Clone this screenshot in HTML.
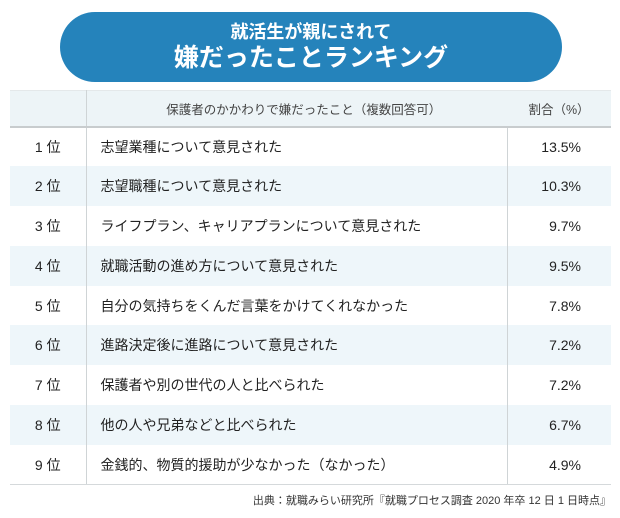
<!DOCTYPE html>
<html><head><meta charset="utf-8"><style>
body{margin:0;width:620px;height:518px;background:#fff;font-family:"Liberation Sans","Noto Sans CJK JP",sans-serif;color:#222;position:relative;overflow:hidden}
.banner{position:absolute;left:60px;top:12px;width:502px;height:70px;border-radius:35px;background:#2583bb;color:#fff;text-align:center;font-weight:bold}
.banner .a{font-size:18px;line-height:22px;margin-top:9px}
.banner .b{font-size:25px;line-height:30px}
table{position:absolute;left:10px;top:90px;width:601px;border-collapse:collapse;table-layout:fixed}
td{padding:0;height:39.8px;font-size:14px;box-sizing:border-box}
tr.h td{height:36px;background:#edf4f7;font-size:12.5px;color:#444;border-bottom:2px solid #c8ccce;border-top:1px solid #e4e8ea}
tr.s td{background:#eef6fa}
td.r{text-align:center;border-right:1px solid #cfd4d6}
td.t{padding-left:14px}
td.p{text-align:right;padding-right:30px;border-left:1px solid #cfd4d6}
tr.h td.p{text-align:center;padding-right:0}
tr.last td{border-bottom:1px solid #d5d9db}
.src{position:absolute;right:9px;top:492px;font-size:11px;color:#333}
</style></head><body>
<div class="banner"><div class="a">就活生が親にされて</div><div class="b">嫌だったことランキング</div></div>
<table>
<colgroup><col style="width:76px"><col style="width:421px"><col style="width:104px"></colgroup>
<tr class="h"><td class="r"></td><td class="t" style="text-align:center">保護者のかかわりで嫌だったこと（複数回答可）</td><td class="p" style="border-left:none">割合（%）</td></tr>
<tr><td class="r">1 位</td><td class="t">志望業種について意見された</td><td class="p">13.5%</td></tr>
<tr class="s"><td class="r">2 位</td><td class="t">志望職種について意見された</td><td class="p">10.3%</td></tr>
<tr><td class="r">3 位</td><td class="t">ライフプラン、キャリアプランについて意見された</td><td class="p">9.7%</td></tr>
<tr class="s"><td class="r">4 位</td><td class="t">就職活動の進め方について意見された</td><td class="p">9.5%</td></tr>
<tr><td class="r">5 位</td><td class="t">自分の気持ちをくんだ言葉をかけてくれなかった</td><td class="p">7.8%</td></tr>
<tr class="s"><td class="r">6 位</td><td class="t">進路決定後に進路について意見された</td><td class="p">7.2%</td></tr>
<tr><td class="r">7 位</td><td class="t">保護者や別の世代の人と比べられた</td><td class="p">7.2%</td></tr>
<tr class="s"><td class="r">8 位</td><td class="t">他の人や兄弟などと比べられた</td><td class="p">6.7%</td></tr>
<tr class="last"><td class="r">9 位</td><td class="t">金銭的、物質的援助が少なかった（なかった）</td><td class="p">4.9%</td></tr>
</table>
<div class="src">出典：就職みらい研究所『就職プロセス調査 2020 年卒 12 日 1 日時点』</div>
</body></html>
